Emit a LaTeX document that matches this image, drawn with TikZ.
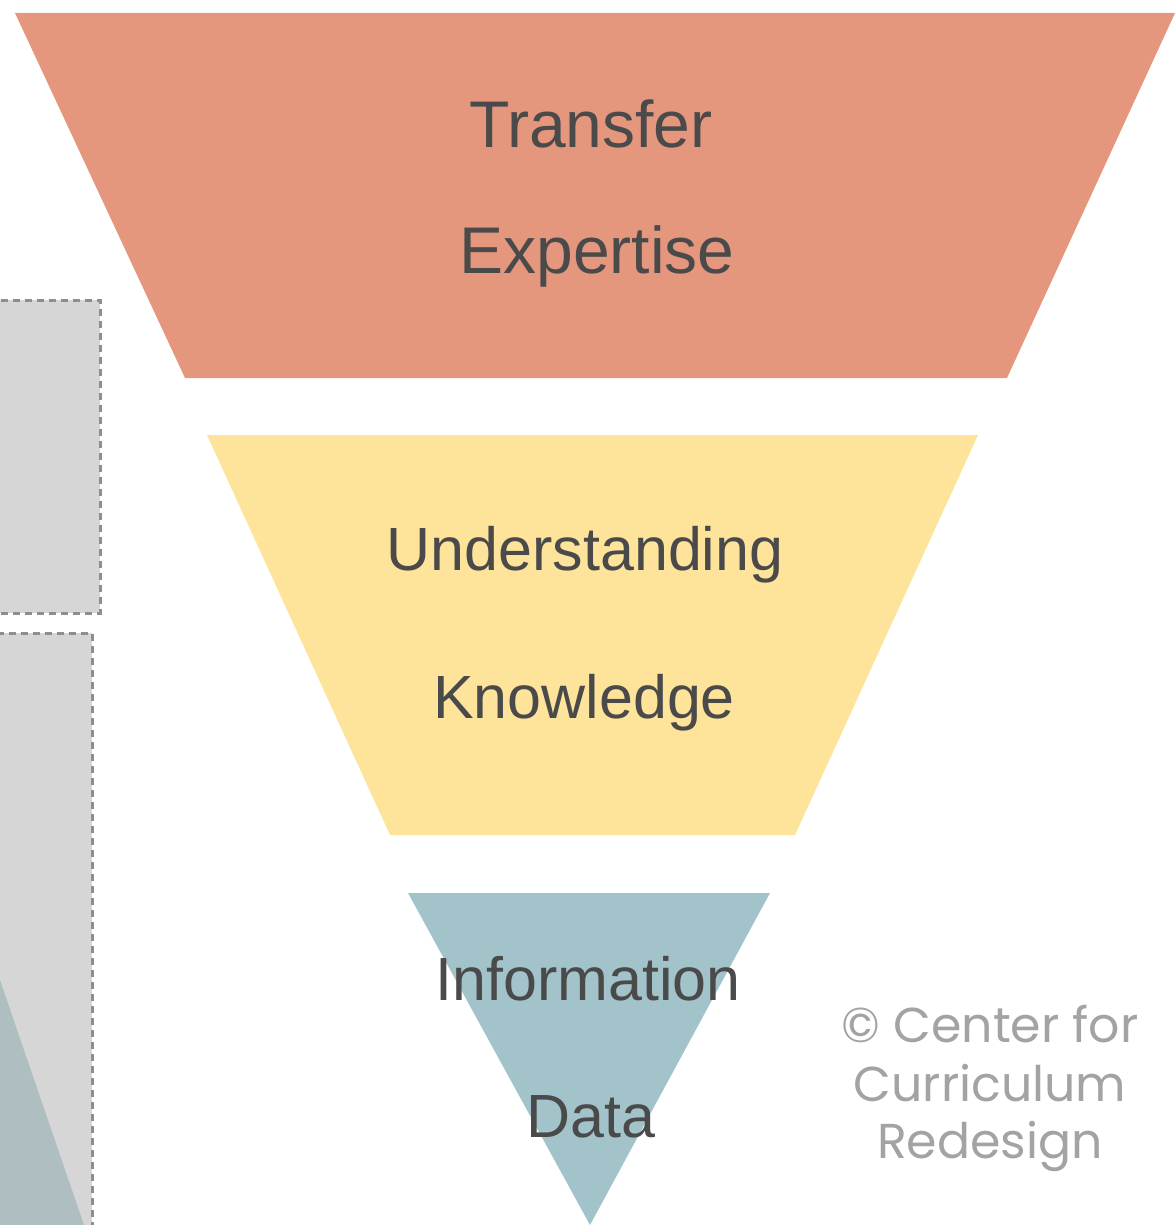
\documentclass[tikz,border=0pt]{standalone}
\usepackage{fontspec}
\setmainfont{Liberation Sans}
\newfontfamily\copyfont{Poppins}
\definecolor{orangeT}{HTML}{E5977D}
\definecolor{yellowT}{HTML}{FEE39B}
\definecolor{tealT}{HTML}{A2C3CA}
\definecolor{greyBox}{HTML}{D6D6D6}
\definecolor{greyEdge}{HTML}{8E8E8E}
\definecolor{tealGrey}{HTML}{AFBFC1}
\definecolor{txt}{HTML}{4A4A4A}
\definecolor{copyc}{HTML}{A3A3A3}
\begin{document}
\begin{tikzpicture}[x=1pt,y=-1pt,
  bigtext/.style={anchor=base, text=txt, font=\fontsize{66}{70}\selectfont, inner sep=0pt},
  midtext/.style={anchor=base, text=txt, font=\fontsize{61}{66}\selectfont, inner sep=0pt},
  copytext/.style={anchor=base, text=copyc, font=\copyfont\fontsize{49}{54}\selectfont, inner sep=0pt},
  sidebox/.style={fill=greyBox, draw=greyEdge, line width=3pt, dash pattern=on 7pt off 5pt}]
\useasboundingbox (0,0) rectangle (1175,1225);
% side boxes
\path[sidebox] (-10,300) rectangle (100,613);
\path[sidebox] (-10,633) rectangle (92,1240);
\fill[tealGrey] (0,980) -- (84,1225) -- (0,1225) -- cycle;
% funnel layers
\fill[orangeT] (15,13) -- (1175,13) -- (1007,378) -- (185,378) -- cycle;
\fill[yellowT] (207,435) -- (978,435) -- (795,835) -- (390,835) -- cycle;
\fill[tealT] (408,893) -- (770,893) -- (590,1225) -- cycle;
% labels
\node[bigtext] (transfer) at (591,148) {Transfer};
\node[bigtext] (expertise) at (597,273) {Expertise};
\node[midtext] (understanding) at (585,570) {Understanding};
\node[midtext] (knowledge) at (584,718) {Knowledge};
\node[midtext] (information) at (588,1000) {Information};
\node[midtext] (data) at (591,1137) {Data};
\node[copytext] (c1) at (990,1042) {© Center for};
\node[copytext] (c2) at (990,1101) {Curriculum};
\node[copytext] (c3) at (990,1158) {Redesign};
\end{tikzpicture}
\end{document}
